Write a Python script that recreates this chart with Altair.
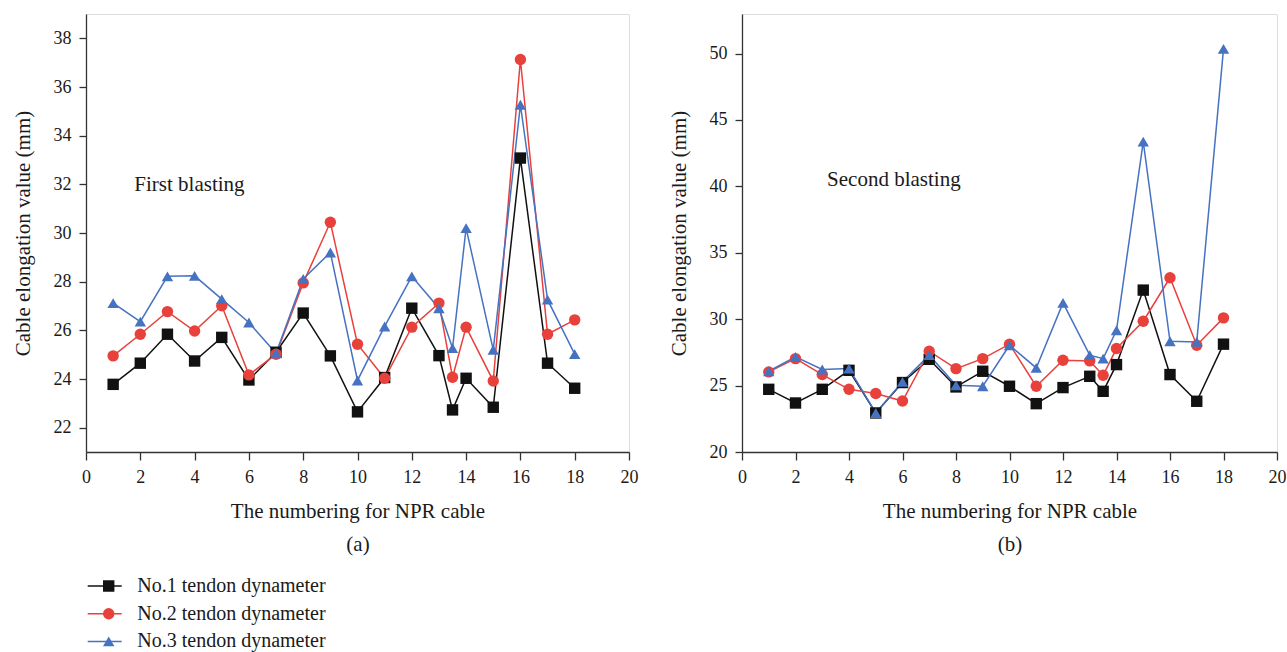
import altair as alt
import pandas as pd

FONT = "Liberation Serif"
TXT = "#1a1a1a"
AX = "#333333"

cable_no = [1, 2, 3, 4, 5, 6, 7, 8, 9, 10, 11, 12, 13, 13.5, 14, 15, 16, 17, 18]
series_names = ["No.1 tendon dynameter", "No.2 tendon dynameter", "No.3 tendon dynameter"]
series_colors = ["#111111", "#e8413c", "#4672c2"]
series_shapes = ["square", "circle", "triangle-up"]

# (a) First blasting
first_no1 = [23.78, 24.65, 25.84, 24.74, 25.71, 23.96, 25.10, 26.71, 24.95, 22.65,
             24.06, 26.91, 24.96, 22.73, 24.03, 22.84, 33.08, 24.65, 23.62]
first_no2 = [24.95, 25.84, 26.77, 25.97, 27.01, 24.17, 25.02, 27.95, 30.44, 25.43,
             24.03, 26.13, 27.12, 24.07, 26.13, 23.92, 37.13, 25.84, 26.43]
first_no3 = [27.12, 26.36, 28.22, 28.24, 27.28, 26.32, 25.06, 28.11, 29.20, 23.94,
             26.16, 28.22, 26.91, 25.27, 30.20, 25.20, 35.27, 27.26, 25.02]

# (b) Second blasting
second_no1 = [24.72, 23.69, 24.72, 26.15, 22.94, 25.23, 26.98, 24.90, 26.08, 24.95,
              23.64, 24.85, 25.70, 24.57, 26.58, 32.19, 25.83, 23.82, 28.12]
second_no2 = [26.03, 27.03, 25.83, 24.72, 24.40, 23.84, 27.59, 26.28, 27.03, 28.12,
              24.95, 26.91, 26.86, 25.78, 27.79, 29.85, 33.12, 28.04, 30.10]
second_no3 = [26.08, 27.16, 26.21, 26.28, 22.94, 25.28, 27.29, 25.02, 24.95, 28.04,
              26.33, 31.23, 27.29, 27.03, 29.17, 43.37, 28.34, 28.29, 50.35]

ann_text = ["First blasting", "Second blasting"]
ann_x = [1.78, 3.18]
ann_y = [31.97, 40.5]

x_ticks = list(range(0, 21))
y_ticks_a = list(range(22, 40))
y_ticks_b = [20 + 2.5 * i for i in range(14)]


def long_df(vals_list):
    rows = []
    for name, vals in zip(series_names, vals_list):
        for x, v in zip(cable_no, vals):
            rows.append({"cable": x, "value": v, "series": name})
    return pd.DataFrame(rows)


df_a = long_df([first_no1, first_no2, first_no3])
df_b = long_df([second_no1, second_no2, second_no3])
ann_a = pd.DataFrame({"t": [ann_text[0]], "x": [ann_x[0]], "y": [ann_y[0]]})
ann_b = pd.DataFrame({"t": [ann_text[1]], "x": [ann_x[1]], "y": [ann_y[1]]})


def cond_tick(test, major=7, minor=4):
    return {"condition": {"test": test, "value": major}, "value": minor}


def axis_common(**kw):
    base = dict(
        grid=False, domainColor=AX, tickColor=AX, domainWidth=1.3, tickWidth=1.3,
        labelFont=FONT, labelFontSize=18, labelColor=TXT, labelOverlap=False,
        labelFlush=False, titleFont=FONT, titleFontSize=21, titleFontWeight="normal",
        titleColor=TXT,
    )
    base.update(kw)
    return alt.Axis(**base)


def x_axis(tag):
    return axis_common(
        values=x_ticks,
        labelExpr="datum.value % 2 == 0 ? datum.label : ''",
        tickSize=cond_tick("datum.value % 2 == 0", 8, 4),
        labelPadding=8,
        title=["The numbering for NPR cable", tag],
        titleLineHeight=33, titlePadding=14,
    )


def y_axis(values, test):
    return axis_common(
        values=values,
        labelExpr=test + " ? datum.label : ''",
        tickSize=cond_tick(test, 7, 4),
        labelPadding=8,
        title="Cable elongation value (mm)",
        titlePadding=20,
    )


color_scale = alt.Scale(domain=series_names, range=series_colors)
shape_scale = alt.Scale(domain=series_names, range=series_shapes)

leg_common = dict(
    orient="none", legendY=563, title=None, labelFont=FONT, labelFontSize=20,
    labelColor=TXT, padding=0, rowPadding=7.7, clipHeight=18, symbolOffset=0,
    labelLimit=500,
)
legend_lines = alt.Legend(legendX=0.7, symbolType="stroke", symbolSize=1156,
                          symbolStrokeWidth=1.5, labelOffset=14.6, **leg_common)
legend_marks = alt.Legend(legendX=12.7, symbolSize=130, symbolStrokeWidth=0,
                          labelExpr="''", labelOffset=14.6, **leg_common)


def panel(df, ann, ydom, yvals, ytest, tag, width, with_legend):
    x = alt.X("cable:Q", scale=alt.Scale(domain=[0, 20], nice=False), axis=x_axis(tag))
    y = alt.Y("value:Q", scale=alt.Scale(domain=ydom, nice=False, zero=False),
              axis=y_axis(yvals, ytest))
    lines = alt.Chart(df).mark_line(strokeWidth=1.5).encode(
        x=x, y=y,
        color=alt.Color("series:N", scale=color_scale,
                        legend=legend_lines if with_legend else None),
    )
    pts = alt.Chart(df).mark_point(filled=True, size=130, opacity=1).encode(
        x=x, y=y,
        color=alt.Color("series:N", scale=color_scale,
                        legend=legend_marks if with_legend else None),
        shape=alt.Shape("series:N", scale=shape_scale,
                        legend=legend_marks if with_legend else None),
    )
    txt = alt.Chart(ann).mark_text(font=FONT, fontSize=21, align="left",
                                   baseline="middle", color=TXT).encode(
        x=alt.X("x:Q", scale=alt.Scale(domain=[0, 20], nice=False)),
        y=alt.Y("y:Q", scale=alt.Scale(domain=ydom, nice=False, zero=False)),
        text="t:N",
    )
    layer = alt.layer(lines, pts, txt).properties(width=width, height=438)
    if with_legend:
        layer = layer.resolve_scale(color="independent", shape="independent")
    return layer


left = panel(df_a, ann_a, [21, 39], y_ticks_a, "datum.value % 2 == 0", "(a)", 543, True)
right = panel(df_b, ann_b, [20, 52.98], y_ticks_b, "datum.value % 5 == 0", "(b)", 535, False)

chart = alt.hconcat(left, right, spacing=28).properties(
    padding={"left": 11, "top": 13, "right": 0, "bottom": 0},
    background="white",
).configure_view(stroke=None).configure(font=FONT)

chart.save("out.html", embed_options={"renderer": "svg", "actions": False})
